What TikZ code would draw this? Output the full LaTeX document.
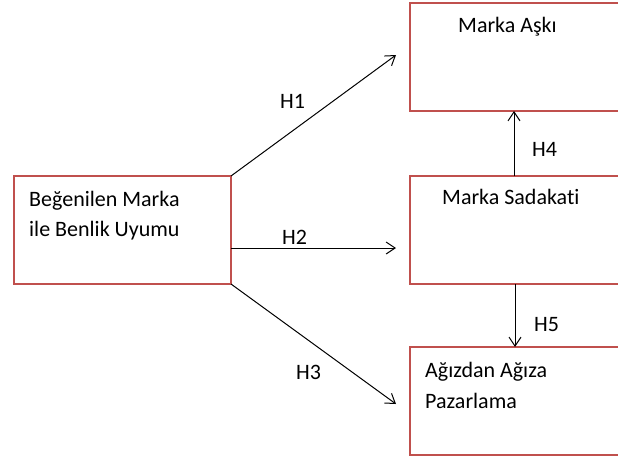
\documentclass[tikz,border=0pt]{standalone}
\usepackage{fontspec}
\setmainfont{Carlito}[Ligatures={NoCommon}]
\usetikzlibrary{arrows.meta}
\definecolor{boxred}{RGB}{192,80,77}
\begin{document}
\begin{tikzpicture}[x=1pt,y=-1pt,
  box/.style={rectangle,inner sep=0pt,outer sep=0pt,anchor=north west},
  boxline/.style={draw=boxred,line width=2.8pt},
  txt/.style={anchor=base west,inner sep=0pt,font=\fontsize{22}{30}\selectfont},
  conn/.style={line width=1pt,-{Straight Barb[length=9pt,width=12pt,line width=1pt]}}]
\useasboundingbox (0,0) rectangle (618,459);
\fill[white] (0,0) rectangle (618,459);
% boxes
\node[box,minimum width=217pt,minimum height=108pt] (L) at (14,176) {};
\draw[boxline] (L.north west) rectangle (L.south east);
\node[box,minimum width=208pt,minimum height=108pt] (T) at (410,3) {};
\node[box,minimum width=208pt,minimum height=108pt] (M) at (410,176) {};
\node[box,minimum width=208pt,minimum height=108pt] (B) at (410,347) {};
\begin{scope}
\clip (0,-5) rectangle (618,470);
\draw[boxline] (T.north east) ++(20,0) -- (T.north west) -- (T.south west) -- ++(228,0);
\draw[boxline] (M.north east) ++(20,0) -- (M.north west) -- (M.south west) -- ++(228,0);
\draw[boxline] (B.north east) ++(20,0) -- (B.north west) -- (B.south west) -- ++(228,0);
\end{scope}
% texts
\node[txt] (l1) at (29,206) {Beğenilen Marka};
\node[txt] (l2) at (29,236) {ile Benlik Uyumu};
\node[txt] (t1) at (458,32) {Marka Aşkı};
\node[txt] (m1) at (442,204) {Marka Sadakati};
\node[txt] (b1) at (425,377) {Ağızdan Ağıza};
\node[txt] (b2) at (425,408) {Pazarlama};
% arrow ends
\coordinate (e1) at (396,55);
\coordinate (e2) at (396,248);
\coordinate (e3) at (396,404);
\coordinate (x4) at (514,0);
\coordinate (x5) at (515,0);
\draw[conn] (L.north east) -- (e1);
\draw[conn] (L.east |- e2) -- (e2);
\draw[conn] (L.south east) -- (e3);
\draw[conn] (M.north -| x4) -- (T.south -| x4);
\draw[conn] (M.south -| x5) -- (B.north -| x5);
% labels
\node[txt] (h1) at (280,108) {H1};
\node[txt] (h2) at (282,244) {H2};
\node[txt] (h3) at (296,379) {H3};
\node[txt] (h4) at (532,156) {H4};
\node[txt] (h5) at (534,331) {H5};
\end{tikzpicture}
\end{document}
